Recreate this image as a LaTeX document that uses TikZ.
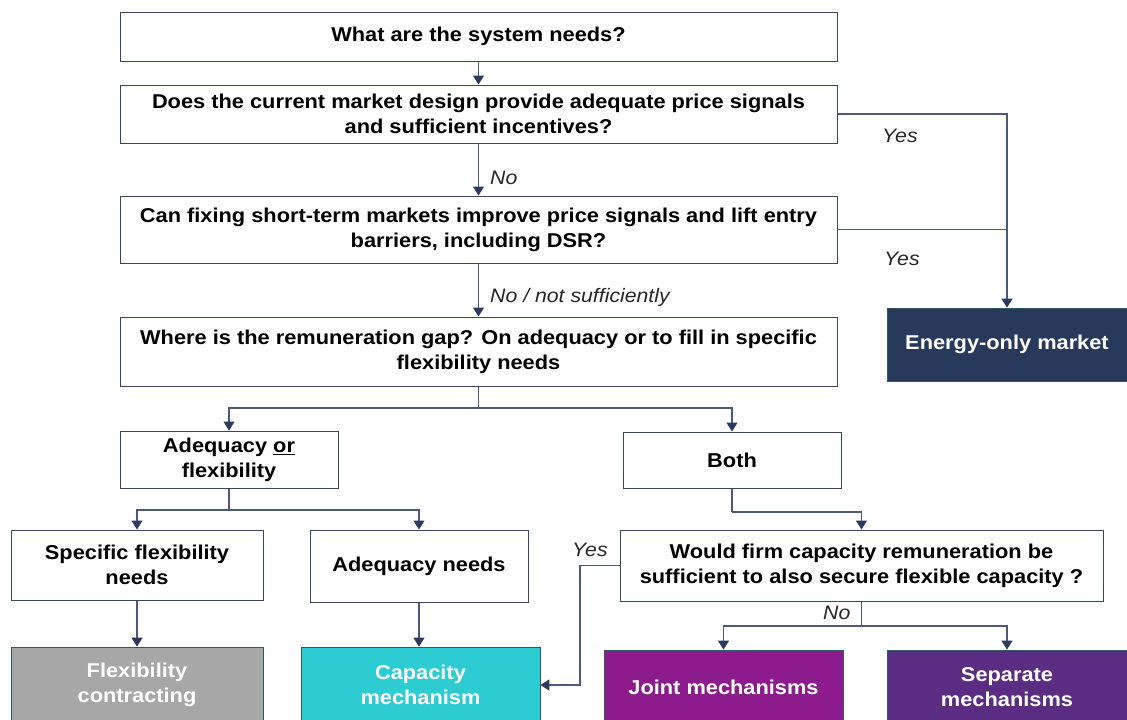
\documentclass[tikz,border=0pt]{standalone}
\usepackage{fontspec}
\setmainfont{Liberation Sans}[FakeStretch=1.09]
\usetikzlibrary{arrows.meta}
\definecolor{linec}{HTML}{4A5A78}
\definecolor{arrc}{HTML}{2B3A5E}
\definecolor{boxline}{HTML}{3A4660}
\definecolor{navy}{HTML}{283A5B}
\definecolor{greyb}{HTML}{A7A7A7}
\definecolor{tealb}{HTML}{2DCBD2}
\definecolor{magb}{HTML}{8D1B8E}
\definecolor{purb}{HTML}{5A2C82}
\definecolor{fillline}{HTML}{2F5A5E}
\tikzset{
  qbox/.style={draw=boxline, line width=1pt, fill=white, align=center, inner sep=2pt,
    font=\fontsize{20}{25}\selectfont\bfseries},
  obox/.style={draw=fillline, line width=0.8pt, align=center, inner sep=2pt, text=white,
    font=\fontsize{20}{25}\selectfont\bfseries},
  conn/.style={draw=linec, line width=1.2pt, -{Triangle[length=9pt,width=11pt,color=arrc]}},
  plain/.style={draw=linec, line width=1.2pt},
  lbl/.style={font=\fontsize{19.5}{22}\selectfont\itshape, inner sep=0pt, text=black!85}
}
\begin{document}
\begin{tikzpicture}[x=1pt,y=-1pt]
\useasboundingbox (0,0) rectangle (1127,720);
\clip (0,0) rectangle (1127,720);
\fill[white] (0,0) rectangle (1127,720);
% question boxes
\node[qbox, minimum width=717pt, minimum height=49pt] (b1) at (478.5,36.5) {What are the system needs?};
\node[qbox, minimum width=717pt, minimum height=58pt] (b2) at (478.5,114) {Does the current market design provide adequate price signals\\and sufficient incentives?};
\node[qbox, minimum width=717pt, minimum height=67pt] (b3) at (478.5,229.5) {Can fixing short-term markets improve price signals and lift entry\\barriers, including DSR?};
\node[qbox, minimum width=717pt, minimum height=69pt] (b4) at (478.5,351.5) {Where is the remuneration gap? On adequacy or to fill in specific\\flexibility needs};
\node[qbox, minimum width=218pt, minimum height=57pt] (adq) at (229,459.5) {Adequacy \underline{or}\\flexibility};
\node[qbox, minimum width=218pt, minimum height=56pt] (both) at (732,460) {Both};
\node[qbox, minimum width=252pt, minimum height=70pt] (spec) at (137,565) {Specific flexibility\\needs};
\node[qbox, minimum width=218pt, minimum height=72pt] (adn) at (419,566) {Adequacy needs};
\node[qbox, minimum width=483pt, minimum height=71pt] (would) at (861.5,565.5) {Would firm capacity remuneration be\\sufficient to also secure flexible capacity ?};
% outcome boxes
\node[obox, fill=navy, minimum width=240pt, minimum height=73pt] (eom) at (1007,344.5) {Energy-only market};
\node[obox, fill=greyb, minimum width=252pt, minimum height=76pt] (flex) at (137,685) {Flexibility\\contracting};
\node[obox, fill=tealb, minimum width=239pt, minimum height=76pt] (cap) at (420.5,685) {Capacity\\mechanism};
\node[obox, fill=magb, minimum width=239pt, minimum height=74pt] (joint) at (723.5,687) {Joint mechanisms};
\node[obox, fill=purb, minimum width=240pt, minimum height=74pt] (sep) at (1007,687) {Separate\\mechanisms};
% connectors
\draw[conn] (b1.south) -- (b2.north);
\draw[conn] (b2.south) -- (b3.north);
\draw[conn] (b3.south) -- (b4.north);
\draw[conn] (b2.east) -| (eom.north);
\coordinate (j3) at (b3.east -| eom.north);
\draw[plain] (b3.east) -- (j3);
\coordinate (s4) at (478.5,408);
\draw[plain] (b4.south) -- (s4);
\draw[conn] (s4) -| (adq.north);
\draw[conn] (s4) -| (both.north);
\coordinate (sa) at (229,510);
\draw[plain] (adq.south) -- (sa);
\draw[conn] (sa) -| (spec.north);
\draw[conn] (sa) -| (adn.north);
\coordinate (sb) at (732,512);
\draw[plain] (both.south) -- (sb);
\draw[conn] (sb) -| (would.north);
\coordinate (sw) at (861.5,626);
\draw[plain] (would.south) -- (sw);
\draw[conn] (sw) -| (joint.north);
\draw[conn] (sw) -| (sep.north);
\coordinate (yw) at (580,565.5);
\draw[conn] (would.west) -- (yw) |- (cap.east);
\draw[conn] (spec.south) -- (flex.north);
\draw[conn] (adn.south) -- (adn.south |- cap.north);
% labels
\node[lbl, anchor=west] (l1) at (490,178) {No};
\node[lbl, anchor=west] (l2) at (490,297) {No / not sufficiently};
\node[lbl, anchor=west] (l3) at (882,136) {Yes};
\node[lbl, anchor=west] (l4) at (884,259) {Yes};
\node[lbl, anchor=west] (l5) at (572,550) {Yes};
\node[lbl, anchor=west] (l6) at (823,613) {No};
\end{tikzpicture}
\end{document}
